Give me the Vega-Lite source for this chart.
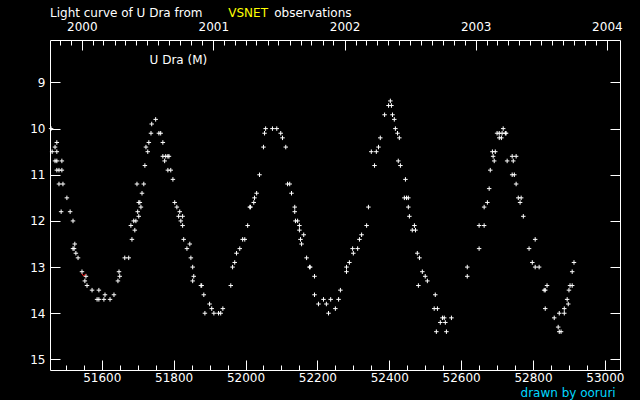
{
  "$schema": "https://vega.github.io/schema/vega-lite/v6.json",
  "width": 570,
  "height": 330,
  "autosize": {"type": "none"},
  "padding": {"left": 50, "top": 40, "right": 20, "bottom": 30},
  "background": "black",
  "config": {
    "view": {"stroke": "white", "strokeWidth": 1},
    "axis": {"domain": false, "grid": false, "labelColor": "white", "tickColor": "white", "tickOpacity": 1, "tickWidth": 1, "labelFont": "DejaVu Sans", "labelFontSize": 12, "zindex": 1, "labelOverlap": false, "labelFlush": false}
  },
  "datasets": {
    "obs": [
      {"jd":51459,"mag":10.0},{"jd":51475,"mag":10.3},{"jd":51470,"mag":10.4},{"jd":51462,"mag":10.5},{"jd":51475,"mag":10.5},{"jd":51470,"mag":10.7},{"jd":51475,"mag":10.7},{"jd":51489,"mag":10.7},{"jd":51475,"mag":10.9},{"jd":51481,"mag":10.9},{"jd":51489,"mag":10.9},{"jd":51481,"mag":11.2},{"jd":51492,"mag":11.2},{"jd":51503,"mag":11.5},{"jd":51487,"mag":11.8},{"jd":51512,"mag":11.8},{"jd":51520,"mag":12.0},{"jd":51525,"mag":12.5},{"jd":51520,"mag":12.6},{"jd":51523,"mag":12.6},{"jd":51528,"mag":12.7},{"jd":51534,"mag":12.8},{"jd":51545,"mag":13.1},{"jd":51556,"mag":13.2},{"jd":51553,"mag":13.3},{"jd":51559,"mag":13.4},{"jd":51573,"mag":13.5},{"jd":51587,"mag":13.7},{"jd":51592,"mag":13.7},{"jd":51592,"mag":13.5},{"jd":51606,"mag":13.7},{"jd":51609,"mag":13.6},{"jd":51623,"mag":13.7},{"jd":51634,"mag":13.6},{"jd":51645,"mag":13.3},{"jd":51650,"mag":13.2},{"jd":51648,"mag":13.1},{"jd":51664,"mag":12.8},{"jd":51675,"mag":12.8},{"jd":51684,"mag":12.4},{"jd":51692,"mag":12.2},{"jd":51681,"mag":12.1},{"jd":51689,"mag":12.0},{"jd":51695,"mag":12.0},{"jd":51703,"mag":11.9},{"jd":51709,"mag":11.7},{"jd":51700,"mag":11.8},{"jd":51703,"mag":11.6},{"jd":51706,"mag":11.6},{"jd":51712,"mag":11.4},{"jd":51698,"mag":11.2},{"jd":51717,"mag":11.2},{"jd":51720,"mag":10.8},{"jd":51728,"mag":10.5},{"jd":51723,"mag":10.4},{"jd":51731,"mag":10.3},{"jd":51737,"mag":10.1},{"jd":51759,"mag":10.1},{"jd":51764,"mag":10.1},{"jd":51739,"mag":9.9},{"jd":51750,"mag":9.8},{"jd":51770,"mag":10.3},{"jd":51770,"mag":10.6},{"jd":51778,"mag":10.6},{"jd":51784,"mag":10.6},{"jd":51787,"mag":10.6},{"jd":51775,"mag":10.7},{"jd":51784,"mag":10.9},{"jd":51792,"mag":10.9},{"jd":51798,"mag":11.1},{"jd":51803,"mag":11.6},{"jd":51809,"mag":11.7},{"jd":51817,"mag":11.8},{"jd":51814,"mag":11.9},{"jd":51825,"mag":11.9},{"jd":51820,"mag":12.0},{"jd":51825,"mag":12.1},{"jd":51828,"mag":12.4},{"jd":51845,"mag":12.5},{"jd":51837,"mag":12.6},{"jd":51848,"mag":12.8},{"jd":51853,"mag":13.0},{"jd":51853,"mag":13.3},{"jd":51856,"mag":13.2},{"jd":51876,"mag":13.4},{"jd":51878,"mag":13.4},{"jd":51884,"mag":13.6},{"jd":51900,"mag":13.8},{"jd":51906,"mag":13.9},{"jd":51937,"mag":13.9},{"jd":51887,"mag":14.0},{"jd":51912,"mag":14.0},{"jd":51925,"mag":14.0},{"jd":51931,"mag":14.0},{"jd":51959,"mag":13.4},{"jd":51964,"mag":13.0},{"jd":51970,"mag":12.9},{"jd":51975,"mag":12.7},{"jd":51984,"mag":12.6},{"jd":51992,"mag":12.4},{"jd":51998,"mag":12.4},{"jd":52006,"mag":12.1},{"jd":52012,"mag":11.7},{"jd":52014,"mag":11.7},{"jd":52023,"mag":11.6},{"jd":52025,"mag":11.5},{"jd":52031,"mag":11.4},{"jd":52039,"mag":11.0},{"jd":52050,"mag":10.4},{"jd":52053,"mag":10.1},{"jd":52056,"mag":10.0},{"jd":52075,"mag":10.0},{"jd":52087,"mag":10.0},{"jd":52098,"mag":10.1},{"jd":52103,"mag":10.2},{"jd":52112,"mag":10.4},{"jd":52117,"mag":11.2},{"jd":52123,"mag":11.2},{"jd":52128,"mag":11.4},{"jd":52137,"mag":11.7},{"jd":52137,"mag":11.8},{"jd":52139,"mag":12.0},{"jd":52145,"mag":12.0},{"jd":52150,"mag":12.1},{"jd":52150,"mag":12.2},{"jd":52162,"mag":12.3},{"jd":52153,"mag":12.4},{"jd":52156,"mag":12.5},{"jd":52170,"mag":12.8},{"jd":52178,"mag":13.0},{"jd":52180,"mag":13.0},{"jd":52192,"mag":13.2},{"jd":52192,"mag":13.6},{"jd":52203,"mag":13.8},{"jd":52217,"mag":13.7},{"jd":52225,"mag":13.8},{"jd":52237,"mag":13.7},{"jd":52250,"mag":13.9},{"jd":52259,"mag":13.7},{"jd":52231,"mag":14.0},{"jd":52264,"mag":13.5},{"jd":52281,"mag":13.0},{"jd":52281,"mag":13.1},{"jd":52289,"mag":12.9},{"jd":52300,"mag":12.7},{"jd":52298,"mag":12.6},{"jd":52312,"mag":12.6},{"jd":52317,"mag":12.4},{"jd":52323,"mag":12.3},{"jd":52337,"mag":12.1},{"jd":52342,"mag":11.7},{"jd":52359,"mag":10.8},{"jd":52350,"mag":10.5},{"jd":52364,"mag":10.5},{"jd":52370,"mag":10.4},{"jd":52375,"mag":10.2},{"jd":52387,"mag":9.7},{"jd":52398,"mag":9.5},{"jd":52406,"mag":9.5},{"jd":52403,"mag":9.4},{"jd":52409,"mag":9.7},{"jd":52414,"mag":9.8},{"jd":52417,"mag":10.0},{"jd":52423,"mag":10.1},{"jd":52428,"mag":10.2},{"jd":52425,"mag":10.7},{"jd":52431,"mag":10.8},{"jd":52445,"mag":11.1},{"jd":52442,"mag":11.5},{"jd":52448,"mag":11.5},{"jd":52453,"mag":11.5},{"jd":52453,"mag":11.7},{"jd":52456,"mag":11.9},{"jd":52470,"mag":12.1},{"jd":52464,"mag":12.2},{"jd":52473,"mag":12.2},{"jd":52478,"mag":12.7},{"jd":52484,"mag":12.8},{"jd":52492,"mag":13.1},{"jd":52500,"mag":13.2},{"jd":52506,"mag":13.3},{"jd":52481,"mag":13.4},{"jd":52528,"mag":13.6},{"jd":52525,"mag":13.9},{"jd":52534,"mag":13.9},{"jd":52548,"mag":14.1},{"jd":52553,"mag":14.1},{"jd":52573,"mag":14.1},{"jd":52542,"mag":14.2},{"jd":52556,"mag":14.2},{"jd":52531,"mag":14.4},{"jd":52559,"mag":14.4},{"jd":52617,"mag":13.0},{"jd":52617,"mag":13.2},{"jd":52650,"mag":12.1},{"jd":52664,"mag":12.1},{"jd":52650,"mag":12.6},{"jd":52664,"mag":11.7},{"jd":52673,"mag":11.6},{"jd":52678,"mag":11.3},{"jd":52681,"mag":10.9},{"jd":52692,"mag":10.7},{"jd":52689,"mag":10.6},{"jd":52687,"mag":10.5},{"jd":52695,"mag":10.5},{"jd":52706,"mag":10.2},{"jd":52712,"mag":10.2},{"jd":52700,"mag":10.1},{"jd":52706,"mag":10.1},{"jd":52714,"mag":10.1},{"jd":52723,"mag":10.1},{"jd":52725,"mag":10.1},{"jd":52717,"mag":10.0},{"jd":52742,"mag":10.6},{"jd":52753,"mag":10.6},{"jd":52728,"mag":10.7},{"jd":52745,"mag":10.7},{"jd":52742,"mag":11.0},{"jd":52748,"mag":11.0},{"jd":52753,"mag":11.2},{"jd":52759,"mag":11.5},{"jd":52767,"mag":11.5},{"jd":52764,"mag":11.6},{"jd":52773,"mag":11.9},{"jd":52806,"mag":12.4},{"jd":52789,"mag":12.6},{"jd":52798,"mag":12.9},{"jd":52806,"mag":13.0},{"jd":52817,"mag":13.0},{"jd":52914,"mag":12.9},{"jd":52909,"mag":13.1},{"jd":52839,"mag":13.4},{"jd":52831,"mag":13.5},{"jd":52834,"mag":13.5},{"jd":52903,"mag":13.4},{"jd":52909,"mag":13.4},{"jd":52900,"mag":13.5},{"jd":52895,"mag":13.7},{"jd":52898,"mag":13.8},{"jd":52887,"mag":13.9},{"jd":52834,"mag":13.9},{"jd":52873,"mag":14.0},{"jd":52887,"mag":14.0},{"jd":52859,"mag":14.1},{"jd":52870,"mag":14.3},{"jd":52873,"mag":14.4},{"jd":52878,"mag":14.4}
    ],
    "neg": [{"jd": 51550, "mag": 13.17}]
  },
  "resolve": {"axis": {"x": "independent", "y": "independent"}},
  "layer": [
    {
      "data": {"name": "obs"},
      "mark": {"type": "point", "shape": "M-1,0H1M0,-1V1", "size": 20, "stroke": "white", "strokeWidth": 1, "filled": false, "opacity": 1},
      "encoding": {
        "x": {"field": "jd", "type": "quantitative", "scale": {"domain": [51456, 53042], "nice": false, "zero": false},
          "axis": {"orient": "bottom", "labels": false, "tickCount": 100, "values": [51500,51550,51600,51650,51700,51750,51800,51850,51900,51950,52000,52050,52100,52150,52200,52250,52300,52350,52400,52450,52500,52550,52600,52650,52700,52750,52800,52850,52900,52950,53000], "tickSize": -5, "title": null}},
        "y": {"field": "mag", "type": "quantitative", "scale": {"domain": [8.08, 15.23], "reverse": true, "nice": false, "zero": false},
          "axis": {"orient": "left", "labels": false, "values": [9,10,11,12,13,14,15], "tickSize": -10, "title": null}}
      }
    },
    {
      "data": {"name": "neg"},
      "mark": {"type": "point", "shape": "M-1,-0.6L0,0.6L1,-0.6", "size": 16, "stroke": "#ff2020", "strokeWidth": 1, "filled": false, "opacity": 1},
      "encoding": {
        "x": {"field": "jd", "type": "quantitative", "scale": {"domain": [51456, 53042], "nice": false, "zero": false},
          "axis": {"orient": "bottom", "ticks": true, "tickSize": -10, "values": [51600,51800,52000,52200,52400,52600,52800,53000], "format": "d", "labelPadding": 12, "title": null}},
        "y": {"field": "mag", "type": "quantitative", "scale": {"domain": [8.08, 15.23], "reverse": true, "nice": false, "zero": false},
          "axis": {"orient": "left", "ticks": false, "values": [9,10,11,12,13,14,15], "format": "d", "labelPadding": 5, "title": null}}
      }
    },
    {
      "data": {"values": [{}]},
      "mark": {"type": "text", "text": "U Dra (M)", "color": "white", "align": "left", "baseline": "middle", "font": "DejaVu Sans", "fontSize": 12},
      "encoding": {
        "x": {"datum": 51733, "type": "quantitative", "scale": {"domain": [51456, 53042], "nice": false, "zero": false},
          "axis": {"orient": "top", "ticks": true, "tickSize": -10, "values": [51544.5, 51910.5, 52275.5, 52640.5, 53005.5], "labelExpr": "toString(round((datum.value - 51544.5) / 365.25) + 2000)", "labelPadding": 17, "title": null}},
        "y": {"datum": 8.52, "type": "quantitative", "scale": {"domain": [8.08, 15.23], "reverse": true, "nice": false, "zero": false},
          "axis": {"orient": "right", "labels": false, "values": [9,10,11,12,13,14,15], "tickSize": -10, "title": null}}
      }
    },
    {
      "data": {"values": [{}]},
      "mark": {"type": "text", "text": "Light curve of U Dra from", "color": "white", "align": "left", "baseline": "middle", "font": "DejaVu Sans", "fontSize": 12},
      "encoding": {
        "x": {"datum": 51456, "type": "quantitative", "scale": {"domain": [51456, 53042], "nice": false, "zero": false},
          "axis": {"orient": "top", "labels": false, "tickCount": 100, "values": [51483.5,51513.5,51544.5,51575.5,51604.5,51635.5,51665.5,51696.5,51726.5,51757.5,51788.5,51818.5,51849.5,51879.5,51910.5,51941.5,51969.5,52000.5,52030.5,52061.5,52091.5,52122.5,52153.5,52183.5,52214.5,52244.5,52275.5,52306.5,52334.5,52365.5,52395.5,52426.5,52456.5,52487.5,52518.5,52548.5,52579.5,52609.5,52640.5,52671.5,52699.5,52730.5,52760.5,52791.5,52821.5,52852.5,52883.5,52913.5,52944.5,52974.5,53005.5], "tickSize": -5, "title": null}},
        "y": {"datum": 7.5, "type": "quantitative", "scale": {"domain": [8.08, 15.23], "reverse": true, "nice": false, "zero": false}, "axis": null}
      }
    },
    {
      "data": {"values": [{}]},
      "mark": {"type": "text", "text": "VSNET", "color": "#ffff00", "align": "left", "baseline": "middle", "font": "DejaVu Sans", "fontSize": 12},
      "encoding": {
        "x": {"datum": 51952, "type": "quantitative", "axis": null},
        "y": {"datum": 7.5, "type": "quantitative", "axis": null}
      }
    },
    {
      "data": {"values": [{}]},
      "mark": {"type": "text", "text": "observations", "color": "white", "align": "left", "baseline": "middle", "font": "DejaVu Sans", "fontSize": 12},
      "encoding": {
        "x": {"datum": 52080, "type": "quantitative", "axis": null},
        "y": {"datum": 7.5, "type": "quantitative", "axis": null}
      }
    },
    {
      "data": {"values": [{}]},
      "mark": {"type": "text", "text": "drawn by ooruri", "color": "#00d8ff", "align": "right", "baseline": "middle", "font": "DejaVu Sans", "fontSize": 12},
      "encoding": {
        "x": {"datum": 53030, "type": "quantitative", "axis": null},
        "y": {"datum": 15.72, "type": "quantitative", "axis": null}
      }
    }
  ]
}
